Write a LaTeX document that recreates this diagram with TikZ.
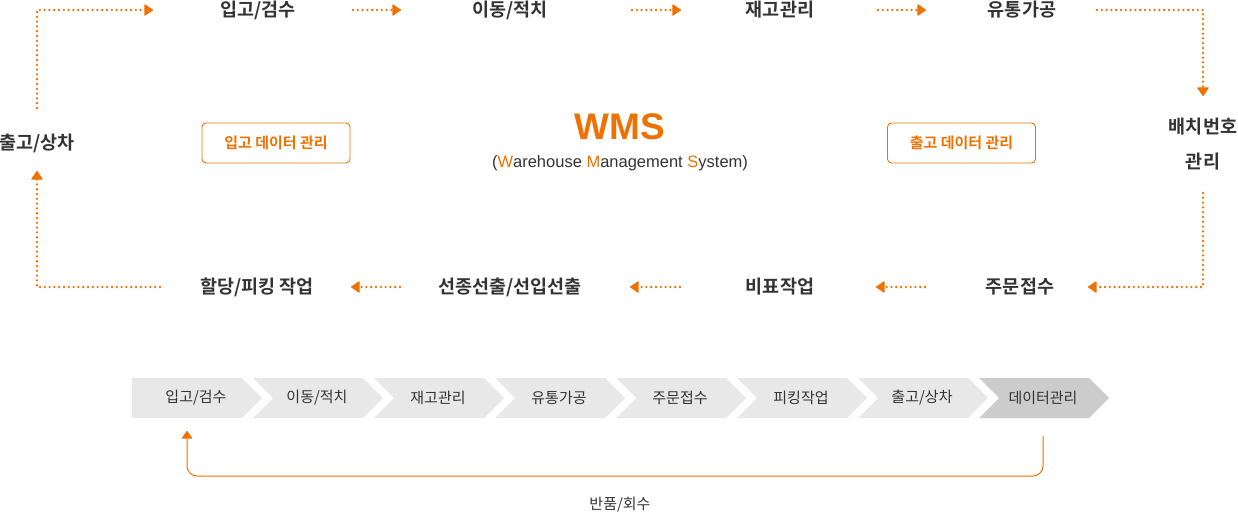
\documentclass[tikz,border=0pt]{standalone}
\usepackage{fontspec}
\setmainfont{Noto Sans CJK KR}[BoldFont={Noto Sans CJK KR Bold}]
\newfontfamily\latinfont{Liberation Sans}
\usetikzlibrary{arrows.meta}
\definecolor{org}{HTML}{EE7203}
\definecolor{txt}{HTML}{333333}
\definecolor{chev}{HTML}{E8E8E8}
\definecolor{chevd}{HTML}{CCCCCC}
\begin{document}
\begin{tikzpicture}[x=1pt,y=-1pt,
  lbl/.style={font=\bfseries\fontsize{18.5}{22}\selectfont, text=txt, inner sep=0pt},
  flow/.style={draw=org, line width=2.6pt, dash pattern=on 0pt off 4.8pt, line cap=round,
    -{Triangle[length=9pt,width=12pt,round,fill=org,line width=1pt]}},
  databox/.style={draw=org, line width=0.9pt, rounded corners=4pt, minimum width=148pt,
    minimum height=40pt, text=org, font=\bfseries\fontsize{15}{17}\selectfont},
  chevlbl/.style={font=\fontsize{15}{17}\selectfont, text=txt, inner sep=0pt},
  ret/.style={draw=org, line width=1pt, rounded corners=10pt, -{Triangle[length=8pt,width=11pt,round,fill=org]}}
]
\useasboundingbox (0,0) rectangle (1238,514);

% top row
\node[lbl] (t1) at (258,10) {입고/검수};
\node[lbl] (t2) at (510,10) {이동/적치};
\node[lbl] (t3) at (780,10) {재고관리};
\node[lbl] (t4) at (1022,10) {유통가공};
% right
\node[lbl, align=center, font=\bfseries\fontsize{18.5}{35}\selectfont] (r1) at (1203,144.5) {배치번호\\관리};
% bottom row
\node[lbl] (b1) at (1020,287) {주문접수};
\node[lbl] (b2) at (780,287) {비표작업};
\node[lbl] (b3) at (510,287) {선종선출/선입선출};
\node[lbl] (b4) at (257,287) {할당/피킹 작업};
% left
\node[lbl] (l1) at (37,143) {출고/상차};

% arrow end points
\coordinate (a1s) at (37,108);  \coordinate (a1c) at (37,10);  \coordinate (a1e) at (153,10);
\coordinate (a2s) at (353,10);  \coordinate (a2e) at (401,10);
\coordinate (a3s) at (632,10);  \coordinate (a3e) at (681,10);
\coordinate (a4s) at (878,10);  \coordinate (a4e) at (926,10);
\coordinate (a5s) at (1097,10); \coordinate (a5c) at (1203,10); \coordinate (a5e) at (1203,96);
\coordinate (a6s) at (1203,193); \coordinate (a6c) at (1203,287); \coordinate (a6e) at (1088,287);
\coordinate (a7s) at (925,287); \coordinate (a7e) at (876,287);
\coordinate (a8s) at (680,287); \coordinate (a8e) at (630,287);
\coordinate (a9s) at (400,287); \coordinate (a9e) at (351,287);
\coordinate (a10s) at (160,287); \coordinate (a10c) at (37,287); \coordinate (a10e) at (37,171);

\draw[flow] (a1s) -- (a1c) -- (a1e);
\draw[flow] (a2s) -- (a2e);
\draw[flow] (a3s) -- (a3e);
\draw[flow] (a4s) -- (a4e);
\draw[flow] (a5s) -- (a5c) -- (a5e);
\draw[flow] (a6s) -- (a6c) -- (a6e);
\draw[flow] (a7s) -- (a7e);
\draw[flow] (a8s) -- (a8e);
\draw[flow] (a9s) -- (a9e);
\draw[flow] (a10s) -- (a10c) -- (a10e);

% data boxes
\node[databox] (in) at (276,143) {입고 데이터 관리};
\node[databox] (out) at (961.5,143) {출고 데이터 관리};

% WMS
\node[font=\latinfont\bfseries\fontsize{37}{40}\selectfont, text=org, inner sep=0pt] (wms) at (620,127) {WMS};
\node[font=\latinfont\fontsize{16.5}{19}\selectfont, text=txt, inner sep=0pt] (wmsfull) at (620,163)
  {(\textcolor{org}{W}arehouse \textcolor{org}{M}anagement \textcolor{org}{S}ystem)};

% chevrons
\foreach \i/\t in {0/입고\slash 검수,1/이동\slash 적치,2/재고관리,3/유통가공,4/주문접수,5/피킹작업,6/출고\slash 상차,7/데이터관리}{
  \pgfmathsetmacro{\L}{132+121*\i}
  \ifnum\i=0
    \fill[chev] (\L,378) -- (\L+110,378) -- (\L+130,398) -- (\L+110,418) -- (\L,418) -- cycle;
  \else\ifnum\i=7
    \fill[chevd] (\L,378) -- (\L+110,378) -- (\L+130,398) -- (\L+110,418) -- (\L,418) -- (\L+20,398) -- cycle;
  \else
    \fill[chev] (\L,378) -- (\L+110,378) -- (\L+130,398) -- (\L+110,418) -- (\L,418) -- (\L+20,398) -- cycle;
  \fi\fi
  \node[chevlbl] (c\i) at (\L+64,398) {\t};
}

% return arrow
\coordinate (rs) at (1043,436);
\coordinate (rc1) at (1043,476);
\coordinate (rc2) at (187,476);
\coordinate (re) at (187,431);
\draw[ret] (rs) -- (rc1) -- (rc2) -- (re);
\node[font=\fontsize{15}{17}\selectfont, text=txt, inner sep=0pt] (retl) at (620,505) {반품/회수};
\end{tikzpicture}
\end{document}
